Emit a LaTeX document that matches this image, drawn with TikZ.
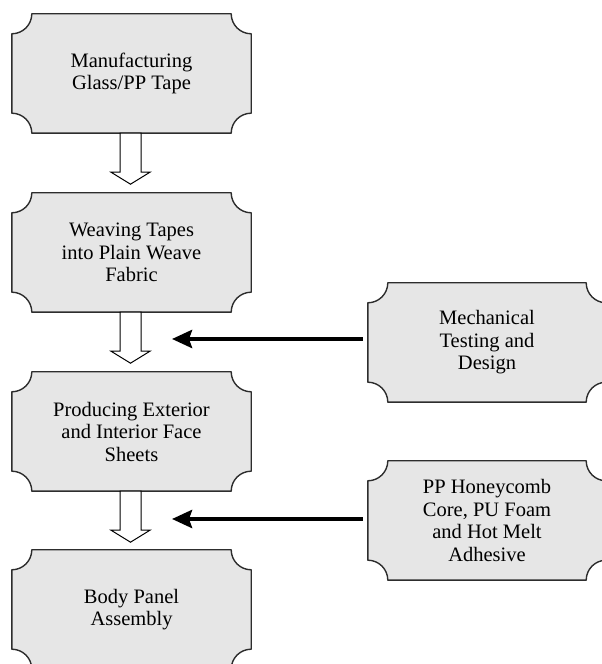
\documentclass[tikz,border=0pt]{standalone}
\usepackage{fontspec}
\setmainfont{Liberation Serif}
\usetikzlibrary{arrows.meta,calc,backgrounds}
\definecolor{boxfill}{RGB}{230,230,230}
\definecolor{boxedge}{RGB}{45,45,45}
\tikzset{
  box/.style={minimum width=239pt,minimum height=119pt,inner sep=0pt,align=center,
    font=\fontsize{20.5pt}{22.5pt}\selectfont},
  boxline/.style={draw=boxedge,fill=boxfill,line width=1.4pt,line join=round},
  hollow/.style={draw=black,fill=white,line width=1pt,line join=miter},
  blk/.style={line width=4pt,-{Stealth[length=20pt,width=18pt,inset=3pt]}}
}
\newcommand\concavebox[2]{%
  \path[boxline] ([xshift=#2]#1.north west) -- ([xshift=-#2]#1.north east)
    arc[start angle=180,end angle=270,radius=#2]
    -- ([yshift=#2]#1.south east)
    arc[start angle=90,end angle=180,radius=#2]
    -- ([xshift=#2]#1.south west)
    arc[start angle=0,end angle=90,radius=#2]
    -- ([yshift=-#2]#1.north west)
    arc[start angle=270,end angle=360,radius=#2] -- cycle;}
\newcommand\hollowarrow[1]{%
  \path[hollow] ($(#1.south)+(-11.5,0)$) -- ++(0,-39) -- ++(-9,0) -- ++(19.5,-12)
    -- ++(19.5,12) -- ++(-9,0) -- ++(0,39) -- cycle;}
\begin{document}
\begin{tikzpicture}[x=1pt,y=1pt]
\useasboundingbox (0,0) rectangle (602,664);
\node[box] (b1) at (131.5,590.5) {Manufacturing\\Glass/PP Tape};
\node[box] (b2) at (131.5,411.5) {Weaving Tapes\\into Plain Weave\\Fabric};
\node[box] (b3) at (131.5,232.5) {Producing Exterior\\and Interior Face\\Sheets};
\node[box] (b4) at (131.5,54.5) {Body Panel\\Assembly};
\node[box,minimum width=238pt] (r1) at (487,321.5) {Mechanical\\Testing and\\Design};
\node[box,minimum width=238pt] (r2) at (487,143.5) {PP Honeycomb\\Core, PU Foam\\and Hot Melt\\Adhesive};
\begin{scope}[on background layer]
  \foreach \n in {b1,b2,b3,b4,r1,r2} {\concavebox{\n}{20pt}}
\end{scope}
\hollowarrow{b1}
\hollowarrow{b2}
\hollowarrow{b3}
\coordinate (t1) at (172,325);
\coordinate (t2) at (172,145);
\draw[blk] ([xshift=-5pt,yshift=3.5pt]r1.west) -- (t1);
\draw[blk] ([xshift=-5pt,yshift=1.5pt]r2.west) -- (t2);
\end{tikzpicture}
\end{document}
